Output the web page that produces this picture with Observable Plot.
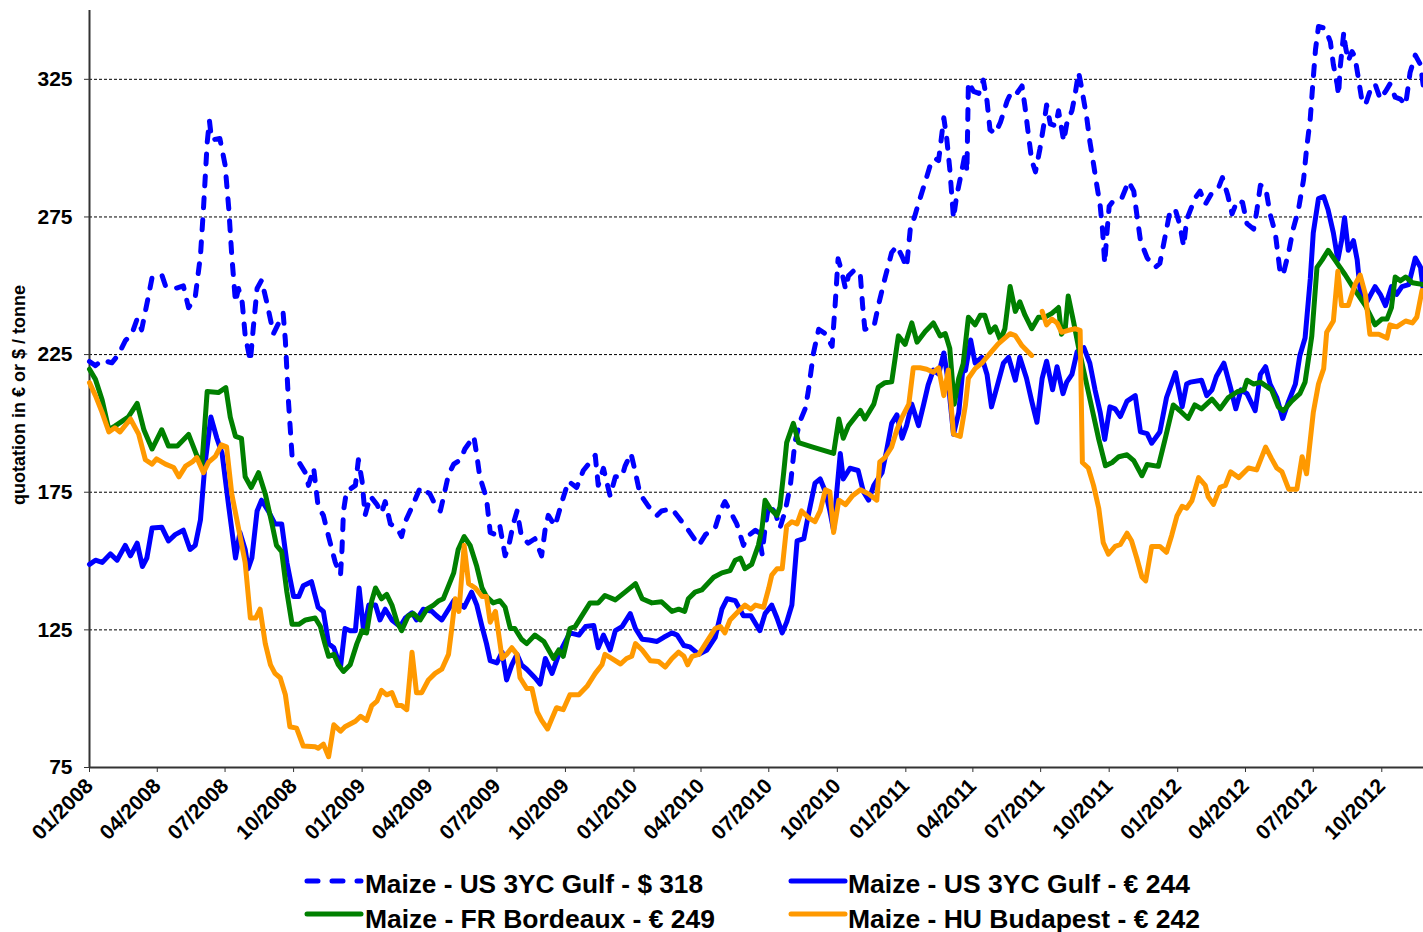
<!DOCTYPE html>
<html><head><meta charset="utf-8">
<script src="https://cdn.jsdelivr.net/npm/d3@7"></script>
<script src="https://cdn.jsdelivr.net/npm/@observablehq/plot@0.6"></script>
<style>
body{margin:0;background:#fff;}
#wrap{position:relative;width:1423px;height:932px;overflow:hidden;background:#fff;font-family:"Liberation Sans",Arial,sans-serif;}
#legend{position:absolute;left:0;top:850px;}
</style></head>
<body><div id="wrap"><div id="chart"></div><svg id="legend" width="1423" height="82"></svg></div>
<script>
// ---- data (weekly quotations) ----
const usdGulf = [["2008-01-01",222.5],["2008-01-09",221],["2008-01-18",223],["2008-01-31",222],["2008-02-09",225],["2008-02-18",230],["2008-02-27",232.6],["2008-03-05",238],["2008-03-11",234],["2008-03-20",246],["2008-03-25",253],["2008-04-07",254],["2008-04-12",250],["2008-04-25",249],["2008-05-06",250],["2008-05-13",242],["2008-05-22",246],["2008-05-29",261],["2008-06-02",278],["2008-06-07",302],["2008-06-10",310],["2008-06-13",303],["2008-06-24",303.5],["2008-07-01",294],["2008-07-06",278],["2008-07-10",261],["2008-07-15",244],["2008-07-19",249],["2008-07-24",244],["2008-07-28",232],["2008-08-04",222.5],["2008-08-08",235],["2008-08-13",249],["2008-08-19",252],["2008-08-26",244],["2008-09-04",232.6],["2008-09-11",236.5],["2008-09-17",240],["2008-09-20",230],["2008-09-24",208.5],["2008-09-29",188],["2008-10-08",186],["2008-10-17",182],["2008-10-21",177.5],["2008-10-28",183.7],["2008-11-03",169.7],["2008-11-10",166.6],["2008-11-17",158.9],["2008-11-26",149.5],["2008-12-03",144.9],["2008-12-05",154.2],["2008-12-07",168.2],["2008-12-11",175.2],["2008-12-23",177.5],["2008-12-27",186.8],["2009-01-01",179],["2009-01-05",166.6],["2009-01-12",173.6],["2009-01-21",170.5],["2009-01-27",167.4],["2009-02-01",171.6],["2009-02-08",163.5],["2009-02-17",162],["2009-02-23",158.9],["2009-02-28",164.3],["2009-03-09",169.7],["2009-03-20",176.7],["2009-04-02",174.4],["2009-04-09",170.5],["2009-04-16",168.2],["2009-04-20",172.8],["2009-04-27",181.4],["2009-05-04",185.2],["2009-05-13",186.8],["2009-05-19",190.7],["2009-05-31",195.3],["2009-06-04",188.4],["2009-06-08",180.6],["2009-06-17",172.8],["2009-06-22",160.4],["2009-06-29",159.6],["2009-07-05",162.7],["2009-07-12",151.9],["2009-07-17",155.7],["2009-07-23",163.5],["2009-07-28",168.2],["2009-08-03",158.9],["2009-08-12",156.5],["2009-08-21",158.1],["2009-08-30",151.9],["2009-09-04",162],["2009-09-08",166.6],["2009-09-17",162.7],["2009-09-26",171.3],["2009-10-05",179],["2009-10-16",176.7],["2009-10-25",182.9],["2009-11-01",185.2],["2009-11-10",188.4],["2009-11-14",177.5],["2009-11-21",183.7],["2009-11-30",173.6],["2009-12-07",180.6],["2009-12-16",180.6],["2009-12-20",184.5],["2009-12-28",189.1],["2010-01-03",182.1],["2010-01-09",174.4],["2010-01-21",169.7],["2010-02-01",166.6],["2010-02-07",168.2],["2010-02-21",169],["2010-03-02",165.8],["2010-03-15",161.2],["2010-03-29",155.7],["2010-04-07",159.6],["2010-04-20",162],["2010-04-27",168.2],["2010-05-03",171.6],["2010-05-10",168.2],["2010-05-19",163.5],["2010-05-28",155.7],["2010-06-02",158.9],["2010-06-13",161.2],["2010-06-17",160.4],["2010-06-22",152.6],["2010-06-26",162],["2010-07-01",170.5],["2010-07-10",167.4],["2010-07-16",162],["2010-07-23",168.2],["2010-07-30",177.5],["2010-08-05",193],["2010-08-12",200.8],["2010-08-19",205.4],["2010-08-23",211.6],["2010-08-30",225.6],["2010-09-06",234.2],["2010-09-15",232.6],["2010-09-24",228],["2010-09-28",242.7],["2010-10-02",259.8],["2010-10-07",255.1],["2010-10-12",248.9],["2010-10-16",253.6],["2010-10-25",256],["2010-11-01",253.6],["2010-11-04",242.7],["2010-11-07",234.2],["2010-11-19",235],["2010-11-25",242.7],["2010-12-04",252.8],["2010-12-13",262.1],["2010-12-20",264.4],["2010-12-27",260.6],["2011-01-02",256.7],["2011-01-07",270.7],["2011-01-13",275.3],["2011-01-18",280],["2011-01-27",287.7],["2011-02-03",294],["2011-02-09",296.3],["2011-02-14",295.5],["2011-02-21",311],["2011-02-25",303.3],["2011-03-01",292.4],["2011-03-06",274.5],["2011-03-10",282.3],["2011-03-17",291.6],["2011-03-22",298.6],["2011-03-24",291.4],["2011-03-26",324],["2011-04-02",320.6],["2011-04-09",319.9],["2011-04-15",324.7],["2011-04-20",317.1],["2011-04-24",306.7],["2011-05-01",305.3],["2011-05-08",309.4],["2011-05-17",317.1],["2011-05-23",320.6],["2011-05-30",319.9],["2011-06-06",322.6],["2011-06-10",315],["2011-06-15",303.9],["2011-06-19",295.6],["2011-06-24",291.4],["2011-06-30",299.7],["2011-07-05",308.1],["2011-07-09",315.7],["2011-07-14",308.8],["2011-07-21",308.1],["2011-07-25",313.6],["2011-08-01",302.5],["2011-08-05",308.8],["2011-08-12",313.6],["2011-08-16",319.2],["2011-08-21",327.5],["2011-08-25",321.9],["2011-09-01",310.8],["2011-09-05",302.5],["2011-09-10",294.2],["2011-09-14",287.2],["2011-09-19",278.9],["2011-09-22",270.6],["2011-09-25",258.1],["2011-09-28",269.2],["2011-10-01",278.9],["2011-10-07",281],["2011-10-18",281.9],["2011-10-27",287.9],["2011-11-03",284.4],["2011-11-07",276.1],["2011-11-12",266.4],["2011-11-21",260.1],["2011-12-02",256.7],["2011-12-08",258.1],["2011-12-15",267.8],["2011-12-22",277.5],["2011-12-29",277.5],["2012-01-04",272],["2012-01-09",264.3],["2012-01-13",274],["2012-01-24",281.7],["2012-01-31",284.4],["2012-02-07",279.6],["2012-02-16",283.8],["2012-02-25",285.8],["2012-03-01",289.3],["2012-03-08",283.1],["2012-03-14",276.1],["2012-03-21",281],["2012-03-28",280.3],["2012-04-03",272.6],["2012-04-12",270.6],["2012-04-16",276.8],["2012-04-21",286.5],["2012-04-28",285.8],["2012-05-04",276.1],["2012-05-11",269.2],["2012-05-18",253.9],["2012-05-22",254.6],["2012-05-29",262.2],["2012-06-04",270.6],["2012-06-11",277.5],["2012-06-18",288.6],["2012-06-22",299.7],["2012-06-27",310.8],["2012-06-30",321.9],["2012-07-04",335.8],["2012-07-08",344.2],["2012-07-17",343.5],["2012-07-24",338.6],["2012-07-28",330.3],["2012-08-02",323.3],["2012-08-04",319.2],["2012-08-06",328.9],["2012-08-11",342.1],["2012-08-13",337.2],["2012-08-17",331.7],["2012-08-22",335.1],["2012-08-26",333.1],["2012-08-31",324.7],["2012-09-04",317.8],["2012-09-09",315.7],["2012-09-15",320.6],["2012-09-22",323.3],["2012-09-29",317.8],["2012-10-06",320.6],["2012-10-12",323.3],["2012-10-19",318.5],["2012-10-26",317.8],["2012-11-02",315.7],["2012-11-08",327.5],["2012-11-15",333.8],["2012-11-22",330.3],["2012-11-26",322]];

const eurGulf = [["2008-01-01",148.8],["2008-01-09",150.3],["2008-01-18",149.5],["2008-01-29",152.6],["2008-02-07",150.3],["2008-02-18",155.7],["2008-02-25",151.9],["2008-03-05",156.5],["2008-03-12",148],["2008-03-18",151.1],["2008-03-25",162],["2008-04-07",162.3],["2008-04-16",157.3],["2008-04-25",159.6],["2008-05-06",161.2],["2008-05-15",154.2],["2008-05-22",155.7],["2008-05-29",165],["2008-06-04",185.2],["2008-06-12",202.3],["2008-06-20",194.6],["2008-06-27",189.1],["2008-07-06",169.7],["2008-07-15",151.1],["2008-07-21",160.4],["2008-07-28",154.2],["2008-08-01",147.2],["2008-08-06",151.1],["2008-08-13",168.2],["2008-08-19",172.1],["2008-08-28",168.2],["2008-09-06",163.5],["2008-09-15",163.5],["2008-09-22",149.5],["2008-10-01",137.1],["2008-10-08",137.1],["2008-10-14",141],["2008-10-25",142.5],["2008-11-03",133.2],["2008-11-10",131.7],["2008-11-17",120],["2008-11-24",118.5],["2008-12-03",111.5],["2008-12-09",125.5],["2008-12-16",124.7],["2008-12-23",124.7],["2008-12-28",140.2],["2009-01-03",124.7],["2009-01-10",134],["2009-01-19",134],["2009-01-25",128.6],["2009-02-01",132.5],["2009-02-10",128.6],["2009-02-21",126.2],["2009-02-28",129.3],["2009-03-09",131.2],["2009-03-15",128.6],["2009-03-24",132.5],["2009-04-05",131.7],["2009-04-11",130.1],["2009-04-18",128.6],["2009-04-27",132.5],["2009-05-04",135.6],["2009-05-10",134.8],["2009-05-18",133.2],["2009-05-28",138.7],["2009-06-04",134],["2009-06-11",126.2],["2009-06-17",120],["2009-06-22",113.8],["2009-07-01",113],["2009-07-08",116.9],["2009-07-14",106.8],["2009-07-21",112.3],["2009-07-28",116.1],["2009-08-03",112.3],["2009-08-10",110.7],["2009-08-21",107.6],["2009-08-28",105.3],["2009-09-04",114.6],["2009-09-13",109.2],["2009-09-22",116.1],["2009-10-01",120.8],["2009-10-07",123.9],["2009-10-19",123.1],["2009-10-28",126.2],["2009-11-08",126.6],["2009-11-14",118.5],["2009-11-21",123.1],["2009-11-30",117.7],["2009-12-07",124.7],["2009-12-16",126.2],["2009-12-27",130.9],["2010-01-03",125.5],["2010-01-12",121.6],["2010-01-21",121.3],["2010-02-01",120.8],["2010-02-10",122.3],["2010-02-21",123.9],["2010-02-28",123.1],["2010-03-09",119.3],["2010-03-17",118.8],["2010-03-29",116.1],["2010-04-09",117.7],["2010-04-20",122.3],["2010-04-29",132.5],["2010-05-06",136.3],["2010-05-17",135.6],["2010-05-28",130.1],["2010-06-07",130.1],["2010-06-19",124.7],["2010-06-26",130.9],["2010-07-05",134],["2010-07-12",129.3],["2010-07-19",123.9],["2010-07-25",127.8],["2010-08-01",134],["2010-08-08",157.3],["2010-08-17",158.1],["2010-08-23",166.6],["2010-09-01",178.3],["2010-09-08",179.8],["2010-09-15",175.2],["2010-09-21",168.2],["2010-09-26",161.2],["2010-09-30",174.4],["2010-10-05",189.1],["2010-10-09",179.8],["2010-10-18",183.7],["2010-10-29",182.9],["2010-11-05",175.2],["2010-11-12",172.1],["2010-11-19",177.5],["2010-11-30",182.1],["2010-12-06",189.9],["2010-12-13",200],["2010-12-20",203.1],["2010-12-27",194.6],["2011-01-02",199.2],["2011-01-09",207],["2011-01-18",199.2],["2011-01-25",207],["2011-01-31",214],["2011-02-07",219.4],["2011-02-14",217.9],["2011-02-21",225.6],["2011-02-27",214.8],["2011-03-06",196.1],["2011-03-13",203.9],["2011-03-19",221],["2011-03-22",219.2],["2011-03-29",230.3],["2011-04-04",221.9],["2011-04-13",224],["2011-04-20",217.8],["2011-04-26",206],["2011-05-03",212.9],["2011-05-12",221.9],["2011-05-19",224],["2011-05-28",215.7],["2011-06-03",224],["2011-06-12",216.4],["2011-06-19",208.1],["2011-06-26",200.4],["2011-07-03",216.4],["2011-07-09",222.6],["2011-07-17",212.2],["2011-07-23",220.6],["2011-07-31",210.8],["2011-08-05",215],["2011-08-12",217.8],["2011-08-19",226.1],["2011-08-28",227.5],["2011-09-05",221.9],["2011-09-12",212.2],["2011-09-19",203.9],["2011-09-25",194.2],["2011-10-02",206],["2011-10-09",205.3],["2011-10-16",202.5],["2011-10-25",208.1],["2011-11-05",210.1],["2011-11-12",196.9],["2011-11-21",196.3],["2011-11-27",192.8],["2011-12-08",196.9],["2011-12-17",209.4],["2011-12-29",218.5],["2012-01-07",206],["2012-01-13",214.3],["2012-01-18",215],["2012-02-02",215.7],["2012-02-09",210.1],["2012-02-16",212.2],["2012-02-22",217.1],["2012-03-03",221.9],["2012-03-12",212.9],["2012-03-19",205.3],["2012-03-26",212.2],["2012-04-03",210.8],["2012-04-14",204.6],["2012-04-21",217.8],["2012-04-28",220.6],["2012-05-04",214.3],["2012-05-13",209.4],["2012-05-21",201.8],["2012-05-29",208.1],["2012-06-07",214.3],["2012-06-13",224.7],["2012-06-20",231],["2012-06-27",252.5],["2012-07-01",269.2],["2012-07-08",281.7],["2012-07-15",282.4],["2012-07-21",277.5],["2012-07-28",269.2],["2012-08-03",259.4],["2012-08-08",266.4],["2012-08-12",274.7],["2012-08-17",262.9],["2012-08-24",266.4],["2012-08-29",259.4],["2012-09-02",248.3],["2012-09-11",244.2],["2012-09-22",249.7],["2012-09-29",246.9],["2012-10-06",242.8],["2012-10-14",249.7],["2012-10-21",246.9],["2012-10-28",249.7],["2012-11-06",250.4],["2012-11-15",260.1],["2012-11-22",256.7],["2012-11-26",248]];

const frBordeaux = [["2008-01-01",219.7],["2008-01-09",216],["2008-01-18",208.5],["2008-01-27",197.7],["2008-02-04",199],["2008-02-22",202.3],["2008-03-05",207.3],["2008-03-14",197.7],["2008-03-25",190.7],["2008-04-07",197.7],["2008-04-16",191.8],["2008-04-28",191.8],["2008-05-13",196],["2008-05-24",188.4],["2008-05-31",185.2],["2008-06-07",211.6],["2008-06-22",211.2],["2008-07-02",213],["2008-07-08",202.3],["2008-07-15",195.3],["2008-07-23",194.6],["2008-07-28",180.6],["2008-08-05",176.7],["2008-08-15",182.1],["2008-08-24",174.4],["2008-09-02",163.5],["2008-09-08",155.7],["2008-09-15",153.4],["2008-09-22",138.7],["2008-09-29",127],["2008-10-08",127],["2008-10-17",128.6],["2008-10-30",129.3],["2008-11-06",126.2],["2008-11-12",120],["2008-11-17",115.4],["2008-11-24",116.1],["2008-11-30",112.3],["2008-12-07",109.9],["2008-12-16",112.3],["2008-12-25",120],["2009-01-01",124.7],["2009-01-07",123.9],["2009-01-14",135.6],["2009-01-19",140.2],["2009-01-27",136.3],["2009-02-03",137.9],["2009-02-10",134],["2009-02-17",127.8],["2009-02-23",124.7],["2009-03-04",130.1],["2009-03-11",130.9],["2009-03-20",128.6],["2009-03-29",132.5],["2009-04-07",134],["2009-04-14",135.6],["2009-04-20",136.3],["2009-04-27",141],["2009-05-04",145.7],["2009-05-10",154.2],["2009-05-18",158.9],["2009-05-26",155.7],["2009-06-04",148],["2009-06-11",140.2],["2009-06-17",137.1],["2009-06-26",134.8],["2009-07-05",135.6],["2009-07-12",133.2],["2009-07-19",125.5],["2009-07-25",125.5],["2009-08-03",121.6],["2009-08-10",120],["2009-08-21",123.1],["2009-09-02",120.8],["2009-09-15",114.6],["2009-09-22",117.7],["2009-09-28",115.4],["2009-10-07",125.5],["2009-10-14",126.2],["2009-10-23",130.1],["2009-11-03",134.8],["2009-11-14",134.8],["2009-11-23",137.5],["2009-12-07",135.9],["2009-12-20",138.7],["2010-01-03",141.8],["2010-01-12",136.3],["2010-01-25",134.8],["2010-02-07",135.2],["2010-02-21",131.7],["2010-03-02",132.5],["2010-03-10",131.7],["2010-03-15",136.3],["2010-03-24",138.7],["2010-04-02",139.5],["2010-04-18",144.1],["2010-04-29",145.7],["2010-05-10",146.5],["2010-05-17",150.3],["2010-05-24",151.1],["2010-05-30",147.2],["2010-06-08",148.8],["2010-06-17",155.7],["2010-06-22",162],["2010-06-26",172.1],["2010-07-03",169],["2010-07-12",166.6],["2010-07-16",169.7],["2010-07-21",182.1],["2010-07-25",193],["2010-08-03",200],["2010-08-10",193],["2010-08-28",191.5],["2010-09-26",189.1],["2010-10-03",201.6],["2010-10-09",194.6],["2010-10-16",199.2],["2010-11-01",204.7],["2010-11-07",201.6],["2010-11-19",207],["2010-11-25",213.2],["2010-12-04",214.8],["2010-12-13",215.1],["2010-12-22",231.8],["2010-12-31",228.7],["2011-01-09",236.5],["2011-01-16",229.5],["2011-01-27",233.4],["2011-02-07",236.5],["2011-02-16",231.8],["2011-02-23",232.6],["2011-03-01",227.2],["2011-03-07",207],["2011-03-13",216.3],["2011-03-19",221.7],["2011-03-26",238.6],["2011-04-04",235.8],["2011-04-11",239.3],["2011-04-17",239.3],["2011-04-24",233.1],["2011-05-01",235.1],["2011-05-08",230.3],["2011-05-14",234.4],["2011-05-21",249.7],["2011-05-28",240.7],["2011-06-03",244.2],["2011-06-10",239.3],["2011-06-19",234.4],["2011-06-28",238.6],["2011-07-07",238.6],["2011-07-16",240],["2011-07-25",242.1],["2011-07-29",232.4],["2011-08-03",234.4],["2011-08-07",246.3],["2011-08-14",237.2],["2011-08-21",227.5],["2011-08-30",216.4],["2011-09-08",205.3],["2011-09-17",194.2],["2011-09-26",184.6],["2011-10-05",185.8],["2011-10-14",187.9],["2011-10-25",188.6],["2011-11-03",186.5],["2011-11-14",181],["2011-11-21",185.1],["2011-12-06",184.4],["2011-12-15",194.2],["2011-12-26",206.7],["2012-01-04",204.6],["2012-01-15",201.8],["2012-01-24",206.7],["2012-02-02",205.3],["2012-02-16",208.8],["2012-02-27",205.3],["2012-03-09",209.4],["2012-03-21",211.5],["2012-03-30",212.2],["2012-04-03",215.7],["2012-04-12",214.3],["2012-04-21",215],["2012-05-06",212.2],["2012-05-15",206],["2012-05-22",204.6],["2012-06-02",208.1],["2012-06-13",210.8],["2012-06-20",215],["2012-06-29",231.7],["2012-07-06",256.7],["2012-07-13",259.4],["2012-07-21",262.9],["2012-07-30",259.4],["2012-08-13",253.9],["2012-08-26",248.3],["2012-09-09",242.8],["2012-09-22",235.8],["2012-10-01",237.9],["2012-10-08",237.9],["2012-10-14",242.1],["2012-10-19",253.2],["2012-10-26",251.8],["2012-11-02",253.2],["2012-11-11",251.1],["2012-11-26",250.4]];

const huBudapest = [["2008-01-01",214.8],["2008-01-09",210.1],["2008-01-18",203.9],["2008-01-27",196.9],["2008-02-04",198.4],["2008-02-11",196.9],["2008-02-25",201.6],["2008-03-07",196.1],["2008-03-16",186.8],["2008-03-25",185.2],["2008-03-31",187.1],["2008-04-12",185.2],["2008-04-23",184],["2008-04-30",180.6],["2008-05-09",184.5],["2008-05-18",186],["2008-05-24",187.6],["2008-06-02",182.1],["2008-06-09",186],["2008-06-18",188],["2008-06-26",192.2],["2008-07-03",191.5],["2008-07-10",174.4],["2008-07-19",162],["2008-07-28",149.5],["2008-08-04",129.3],["2008-08-11",129.3],["2008-08-17",132.5],["2008-08-24",120],["2008-08-31",112.3],["2008-09-06",109.2],["2008-09-13",107.6],["2008-09-20",101.4],["2008-09-26",89.8],["2008-10-05",89.3],["2008-10-14",82.8],["2008-10-30",82.5],["2008-11-03",82],["2008-11-10",83.5],["2008-11-17",78.9],["2008-11-24",90.5],["2008-12-03",88.2],["2008-12-09",89.8],["2008-12-23",91.8],["2008-12-30",93.6],["2009-01-07",92.1],["2009-01-14",97.5],["2009-01-21",99.1],["2009-01-27",103],["2009-02-03",101.4],["2009-02-10",102.2],["2009-02-17",97.5],["2009-02-23",97.5],["2009-03-02",96],["2009-03-09",116.9],["2009-03-15",102.2],["2009-03-22",102.2],["2009-03-31",106.8],["2009-04-09",109.2],["2009-04-18",110.7],["2009-04-27",116.1],["2009-05-01",124.7],["2009-05-06",136.3],["2009-05-11",131.7],["2009-05-18",155.7],["2009-05-24",141.8],["2009-06-02",140.2],["2009-06-11",137.1],["2009-06-17",137.1],["2009-06-22",127.8],["2009-06-29",131.7],["2009-07-08",114.6],["2009-07-14",116.1],["2009-07-21",118.5],["2009-07-28",116.1],["2009-08-01",107.6],["2009-08-10",103.7],["2009-08-17",103.7],["2009-08-24",95.2],["2009-08-30",92.1],["2009-09-07",89],["2009-09-13",92.9],["2009-09-19",96.7],["2009-09-28",96],["2009-10-07",101.4],["2009-10-19",101.4],["2009-10-30",104.5],["2009-11-10",109.2],["2009-11-19",112.3],["2009-11-23",116.1],["2009-12-02",114.6],["2009-12-14",112.6],["2009-12-22",114.6],["2009-12-29",115.4],["2010-01-03",120],["2010-01-12",117.7],["2010-01-23",113.8],["2010-02-03",113.5],["2010-02-12",111.5],["2010-02-21",114.6],["2010-03-02",116.9],["2010-03-09",115.4],["2010-03-14",112.3],["2010-03-20",115.4],["2010-03-29",116.1],["2010-04-09",120.8],["2010-04-20",125.5],["2010-04-27",126.2],["2010-05-03",123.9],["2010-05-10",128.6],["2010-05-21",131.7],["2010-05-30",134],["2010-06-07",132.5],["2010-06-13",134],["2010-06-24",133.2],["2010-07-01",140.2],["2010-07-05",144.9],["2010-07-12",147.2],["2010-07-19",147.2],["2010-07-25",162.7],["2010-08-01",164.3],["2010-08-08",163.5],["2010-08-14",168.2],["2010-08-23",165.8],["2010-09-01",164.3],["2010-09-08",168.2],["2010-09-15",175.9],["2010-09-21",175.2],["2010-09-26",160.4],["2010-10-03",172.1],["2010-10-12",170.5],["2010-10-21",173.6],["2010-11-01",175.9],["2010-11-12",174.4],["2010-11-23",172.1],["2010-11-27",186],["2010-12-04",187.6],["2010-12-13",191.5],["2010-12-20",197.7],["2010-12-27",202.3],["2011-01-05",207],["2011-01-11",220.2],["2011-01-20",220.2],["2011-01-29",219.7],["2011-02-07",218.6],["2011-02-14",220.2],["2011-02-21",210.1],["2011-02-27",219.4],["2011-03-06",196.1],["2011-03-15",195.3],["2011-03-22",206.7],["2011-03-26",216.4],["2011-04-04",219.9],["2011-04-13",221.9],["2011-04-24",225.4],["2011-05-05",228.9],["2011-05-21",232.6],["2011-05-28",231.9],["2011-06-06",228.2],["2011-06-19",224.7],["2011-06-26",null],["2011-07-03",240.7],["2011-07-09",235.8],["2011-07-16",237.9],["2011-07-23",236.5],["2011-07-29",233.1],["2011-08-07",233.8],["2011-08-16",234.4],["2011-08-23",233.8],["2011-08-26",185.8],["2011-09-03",183.8],["2011-09-10",177.5],["2011-09-17",169.2],["2011-09-23",156.7],["2011-09-30",152.5],["2011-10-09",155.3],["2011-10-16",156],["2011-10-25",160.1],["2011-10-31",157.4],["2011-11-07",151.1],["2011-11-14",144.2],["2011-11-19",142.8],["2011-11-27",155.3],["2011-12-08",155.3],["2011-12-17",153.2],["2011-12-24",159.4],["2011-12-31",166.4],["2012-01-07",169.9],["2012-01-13",169.2],["2012-01-20",171.9],["2012-01-29",180.3],["2012-02-07",177.5],["2012-02-11",173.3],["2012-02-18",170.6],["2012-02-27",176.8],["2012-03-05",177.5],["2012-03-12",182.4],["2012-03-23",180.3],["2012-04-05",183.8],["2012-04-16",183.1],["2012-04-28",191.4],["2012-05-06",187.2],["2012-05-13",183.8],["2012-05-20",182.4],["2012-05-29",176.1],["2012-06-09",176.1],["2012-06-16",187.9],["2012-06-22",181.7],["2012-07-01",203.9],["2012-07-08",214.3],["2012-07-15",219.9],["2012-07-19",233.1],["2012-07-28",237.2],["2012-08-03",255.3],["2012-08-08",242.8],["2012-08-17",242.8],["2012-08-26",250.4],["2012-09-02",253.9],["2012-09-09",246.9],["2012-09-15",232.4],["2012-09-27",232.4],["2012-10-08",231],["2012-10-12",235.8],["2012-10-21",235.1],["2012-11-02",237.2],["2012-11-11",236.5],["2012-11-17",238.6],["2012-11-24",248.3],["2012-11-26",247.6]];

const yTicks = [75, 125, 175, 225, 275, 325];
const gridTicks = [125, 175, 225, 275, 325];
const xDomain = ["2008-01-01", "2012-11-26"];
const yDomain = [75, 350];
const yTitle = "quotation in € or $ / tonne";
const legendLabels = ["Maize - US 3YC Gulf - $ 318", "Maize - US 3YC Gulf - € 244", "Maize - FR Bordeaux - € 249", "Maize - HU Budapest - € 242"];

// ---- build ----
const parse = d3.utcParse("%Y-%m-%d");
const toRows = arr => arr.map(([d, v]) => ({date: parse(d), value: v}));
const x0 = parse(xDomain[0]), x1 = parse(xDomain[1]);
const xTicks = d3.utcMonth.every(3).range(x0, x1);

const BLUE = "#0000ff", GREEN = "#008000", ORANGE = "#ff9900", AXIS = "#333";
const FONT = "'Liberation Sans', Arial, sans-serif";
const lineOpts = {x: "date", y: "value", strokeWidth: 5, strokeLinejoin: "round", strokeLinecap: "round"};

const chart = Plot.plot({
  width: 1423, height: 850,
  marginLeft: 89, marginRight: 0, marginTop: 10, marginBottom: 83,
  x: {type: "utc", domain: [x0, x1]},
  y: {domain: yDomain},
  style: {fontFamily: FONT, fontSize: "20px", fontWeight: "bold", color: "#000", background: "#fff", overflow: "visible"},
  marks: [
    Plot.gridY(gridTicks, {stroke: "#000", strokeOpacity: 1, strokeWidth: 1, strokeDasharray: "3,2"}),
    Plot.axisY(yTicks, {anchor: "left", tickSize: 5, tickPadding: 12, stroke: AXIS, fontSize: 21, fontWeight: "bold", fontFamily: FONT, label: null}),
    Plot.axisX(xTicks, {anchor: "bottom", tickSize: 5, tickPadding: 10, tickRotate: -45, stroke: AXIS, fontSize: 21, fontWeight: "bold", fontFamily: FONT, tickFormat: d3.utcFormat("%m/%Y"), label: null}),
    Plot.ruleY([yDomain[0]], {stroke: AXIS, strokeWidth: 2}),
    Plot.ruleX([x0], {stroke: AXIS, strokeWidth: 2}),
    Plot.line(toRows(usdGulf), {...lineOpts, stroke: BLUE, strokeDasharray: "10,12"}),
    Plot.line(toRows(eurGulf), {...lineOpts, stroke: BLUE}),
    Plot.line(toRows(frBordeaux), {...lineOpts, stroke: GREEN}),
    Plot.line(toRows(huBudapest), {...lineOpts, stroke: ORANGE}),
    Plot.text([yTitle], {frameAnchor: "left", textAnchor: "middle", dx: -70, dy: 6, rotate: -90, fontSize: 18, fontWeight: "bold", fontFamily: FONT, fill: "#000"})
  ]
});
document.getElementById("chart").appendChild(chart);

// ---- legend (below the chart) ----
const leg = d3.select("#legend");
const legendStyle = [
  {color: BLUE, dash: "11,14", sx: [307, 361], tx: 365, sy: 31, ty: 43, len: 338},
  {color: BLUE, dash: null, sx: [791, 845], tx: 848, sy: 31, ty: 43, len: 342},
  {color: GREEN, dash: null, sx: [307, 361], tx: 365, sy: 64, ty: 78, len: 350},
  {color: ORANGE, dash: null, sx: [791, 845], tx: 848, sy: 64, ty: 78, len: 352}
];
legendLabels.forEach((label, i) => {
  const s = legendStyle[i];
  leg.append("line").attr("x1", s.sx[0]).attr("x2", s.sx[1]).attr("y1", s.sy).attr("y2", s.sy)
    .attr("stroke", s.color).attr("stroke-width", 5).attr("stroke-linecap", "round")
    .attr("stroke-dasharray", s.dash);
  leg.append("text").attr("x", s.tx).attr("y", s.ty).text(label)
    .attr("font-family", FONT).attr("font-weight", "bold")
    .attr("font-size", 25).attr("fill", "#000")
    .attr("textLength", s.len).attr("lengthAdjust", "spacingAndGlyphs");
});
</script></body></html>
